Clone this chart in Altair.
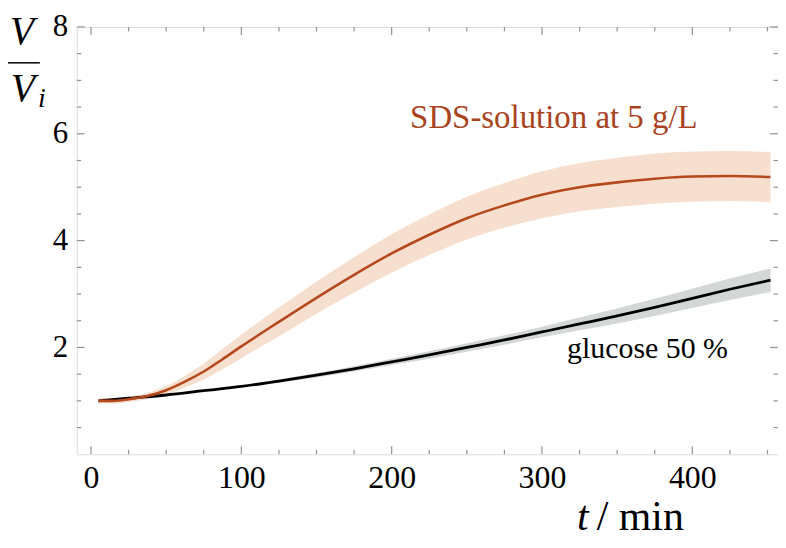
import altair as alt
import pandas as pd

# ---- data ----
t_glu = [5, 25, 50, 75, 100, 125, 150, 175, 200, 225, 250, 275, 300, 325, 350, 375, 400, 425, 452]
v_glu = [1.00, 1.05, 1.11, 1.19, 1.27, 1.37, 1.48, 1.60, 1.73, 1.86, 2.00, 2.14, 2.29, 2.44, 2.59, 2.75, 2.92, 3.09, 3.26]
e_glu = [0.0, 0.0, 0.01, 0.02, 0.02, 0.03, 0.04, 0.05, 0.06, 0.07, 0.08, 0.09, 0.10, 0.12, 0.14, 0.16, 0.18, 0.20, 0.22]

t_sds = [5, 15, 25, 37.5, 50, 62.5, 75, 87.5, 100, 125, 150, 175, 200, 225, 250, 275, 300, 325, 350, 375, 400, 425, 452]
v_sds = [1.00, 1.00, 1.03, 1.09, 1.20, 1.36, 1.55, 1.78, 2.02, 2.48, 2.93, 3.36, 3.76, 4.11, 4.42, 4.66, 4.86, 5.00, 5.09, 5.16, 5.20, 5.21, 5.19]
e_sds = [0.05, 0.05, 0.05, 0.06, 0.08, 0.11, 0.15, 0.19, 0.22, 0.27, 0.30, 0.33, 0.36, 0.38, 0.40, 0.42, 0.44, 0.45, 0.46, 0.47, 0.47, 0.47, 0.47]

x_major = [0, 100, 200, 300, 400]
x_minor = [25, 50, 75, 125, 150, 175, 225, 250, 275, 325, 350, 375, 425, 450]
y_major = [2, 4, 6, 8]
y_minor = [0.5, 1, 1.5, 2.5, 3, 3.5, 4.5, 5, 5.5, 6.5, 7, 7.5]

W, H = 704, 429
FONT = "Liberation Serif"
FRAME = "#8f9593"
ORANGE = "#b5491d"
ORANGE_TXT = "#a8431e"
ORANGE_BAND = "#f6dfce"
GREY_BAND = "#d3d8d6"

glu = pd.DataFrame({"t": t_glu, "v": v_glu,
                    "lo": [a - b for a, b in zip(v_glu, e_glu)],
                    "hi": [a + b for a, b in zip(v_glu, e_glu)]})
sds = pd.DataFrame({"t": t_sds, "v": v_sds,
                    "lo": [a - b for a, b in zip(v_sds, e_sds)],
                    "hi": [a + b for a, b in zip(v_sds, e_sds)]})

xs = alt.Scale(domain=[-9.5, 457], nice=False, zero=False)
ys = alt.Scale(domain=[0, 8], nice=False, zero=False)

xax = alt.Axis(values=x_major, ticks=False, domain=False, grid=False, title=None,
               labelFont=FONT, labelFontSize=32, labelColor="black", labelPadding=8,
               labelFlush=False)
yax = alt.Axis(values=y_major, ticks=False, domain=False, grid=False, title=None,
               labelFont=FONT, labelFontSize=31, labelColor="black", labelPadding=9,
               labelFlush=False)

band_sds = alt.Chart(sds).mark_area(color=ORANGE_BAND, opacity=1, interpolate="monotone").encode(
    x=alt.X("t:Q", scale=xs, axis=xax), y=alt.Y("lo:Q", scale=ys, axis=yax), y2="hi:Q")
band_glu = alt.Chart(glu).mark_area(color=GREY_BAND, opacity=1, interpolate="monotone").encode(
    x=alt.X("t:Q", scale=xs), y=alt.Y("lo:Q", scale=ys), y2="hi:Q")
line_glu = alt.Chart(glu).mark_line(color="black", strokeWidth=2.8, interpolate="monotone").encode(
    x=alt.X("t:Q", scale=xs), y=alt.Y("v:Q", scale=ys))
line_sds = alt.Chart(sds).mark_line(color=ORANGE, strokeWidth=2.6, interpolate="monotone").encode(
    x=alt.X("t:Q", scale=xs), y=alt.Y("v:Q", scale=ys))


def xticks(vals, ln):
    df = pd.DataFrame({"t": vals})
    b = alt.Chart(df).mark_rule(color=FRAME, strokeWidth=1.2).encode(
        x=alt.X("t:Q", scale=xs), y=alt.value(H), y2=alt.value(H - ln))
    t = alt.Chart(df).mark_rule(color=FRAME, strokeWidth=1.2).encode(
        x=alt.X("t:Q", scale=xs), y=alt.value(0), y2=alt.value(ln))
    return b + t


def yticks(vals, ln):
    df = pd.DataFrame({"v": vals})
    l = alt.Chart(df).mark_rule(color=FRAME, strokeWidth=1.2).encode(
        y=alt.Y("v:Q", scale=ys), x=alt.value(0), x2=alt.value(ln))
    r = alt.Chart(df).mark_rule(color=FRAME, strokeWidth=1.2).encode(
        y=alt.Y("v:Q", scale=ys), x=alt.value(W), x2=alt.value(W - ln))
    return l + r


ticks = xticks(x_major, 8) + xticks(x_minor, 4.5) + yticks(y_major, 8) + yticks(y_minor, 4.5)


def label(text, x, y, size, color="black", style="normal", align="center", baseline="alphabetic"):
    return alt.Chart(pd.DataFrame({"s": [text]})).mark_text(
        font=FONT, fontSize=size, color=color, fontStyle=style, align=align, baseline=baseline
    ).encode(x=alt.value(x), y=alt.value(y), text="s:N")


texts = (
    label("SDS-solution at 5 g/L", 479, 101, 33, color=ORANGE_TXT)
    + label("glucose 50 %", 573, 332, 30)
    + label("t", 508, 505, 42, style="italic")
    + label("/ min", 522, 505, 42, align="left")
    + label("V", -55, 17, 40, style="italic")
    + label("V", -54, 74, 40, style="italic")
    + label("i", -35, 80, 28, style="italic")
)
frac = alt.Chart(pd.DataFrame({"a": [0]})).mark_rule(color="black", strokeWidth=1.5).encode(
    x=alt.value(-69), x2=alt.value(-37), y=alt.value(36))

chart = alt.layer(band_sds, band_glu, line_glu, line_sds, ticks, texts, frac).properties(
    width=W, height=H,
    autosize=alt.AutoSizeParams(type="none"),
    padding={"left": 69, "top": 18, "right": 0, "bottom": 85},
).configure_view(stroke=FRAME, strokeWidth=1.5).configure(background="white")

chart.save("out.html", embed_options={"renderer": "svg", "actions": False})
